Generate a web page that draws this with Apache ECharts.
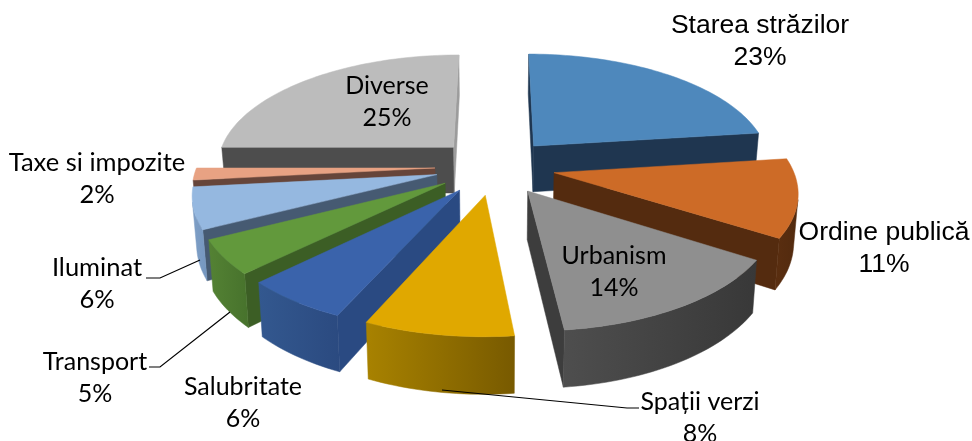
<!DOCTYPE html>
<html>
<head>
<meta charset="utf-8">
<style>html,body{margin:0;padding:0;background:#fff}#c{width:972px;height:441px}</style>
<script src="https://cdn.jsdelivr.net/npm/echarts@6/dist/echarts.min.js"></script>
</head>
<body>
<div id="c"></div>
<script>
// ---- data ----
var categories = ['Starea străzilor','Ordine publică','Urbanism','Spații verzi','Salubritate','Transport','Iluminat','Taxe si impozite','Diverse'];
var shares = [23, 11, 14.3, 8.4, 6.0, 4.8, 5.8, 1.7, 25];

// ---- styles ----
var topColors  = ['#4e88bc','#cd6b27','#8f8f8f','#e0a800','#3a63ab','#62993c','#95b8e0','#e8a283','#bcbcbc'];
var cutColors  = ['#1f3650','#542b0f','#3d3d3d','#7a5c00','#2a4a82','#3c5e25','#465a72','#66453a','#4d4d4d'];
var endColors  = ['#1f3650','#542b0f','#3d3d3d','#7a5c00','#2a4a82','#3c5e25','#465a72','#66453a','#9c9c9c'];
var wallLeft   = ['#2a4a6e','#5a2e10','#4e4e4e','#a88200','#33588f','#548234','#7f9fc6','#8a5c45','#6a6a6a'];
var wallRight  = ['#2a4a6e','#522a0e','#383838','#785a00','#2b4a80','#47722c','#7496bf','#8a5c45','#6a6a6a'];

// ---- pie geometry (layout) ----
var G = {cx:495, cy:166.5, R:238, explode:60, k:0.467, p:0.00062, depth:47, shrink:0.985};

// ---- label layout ----
var labelFont = ['26.5px "Liberation Sans"','26.5px "Liberation Sans"','25px Lato','25px Lato','25px Lato','25px Lato','25.5px Lato','25.5px Lato','25px Lato'];
var labelPos = [[760,42],[884,249],[614,272],[700,418],[243,403],[95,378],[97,284],[97,179],[387,102]];
var leaders = {
  3:[[442,390],[627,408],[639,408]],
  5:[[149,367],[160,367],[230,312]],
  6:[[146,278],[160,278],[200,260]]
};

var total = shares.reduce(function(a,b){return a+b;},0);
var slices = [], acc = 0;
shares.forEach(function(v,i){
  var a0 = acc/total*Math.PI*2; acc += v;
  var a1 = acc/total*Math.PI*2;
  slices.push({i:i,a0:a0,a1:a1,mid:(a0+a1)/2});
});
// painter's order: far slices first
var drawOrder = slices.slice().sort(function(a,b){return Math.cos(b.mid)-Math.cos(a.mid);});

function proj(X,Y,bottom){
  var s = 1/(1-G.p*Y);
  var x = G.cx + X*s*(bottom?G.shrink:1);
  var y = G.cy + G.k*Y*s + (bottom?G.depth*s:0);
  return [x,y];
}
function area(pts){
  var a=0;
  for(var i=0;i<pts.length;i++){var p=pts[i],q=pts[(i+1)%pts.length];a+=p[0]*q[1]-q[0]*p[1];}
  return a/2;
}
function poly(points,fill,z){
  return {type:'polygon',z2:z,shape:{points:points},style:{fill:fill,stroke:fill,lineWidth:0.5}};
}
function renderSlice(params){
  var sl = drawOrder[params.dataIndex];
  var i = sl.i;
  var ex = G.explode*Math.sin(sl.mid), ey = -G.explode*Math.cos(sl.mid);
  var world = [];
  var n = Math.max(6,Math.ceil((sl.a1-sl.a0)/(Math.PI/120)));
  for(var j=0;j<=n;j++){
    var a = sl.a0+(sl.a1-sl.a0)*j/n;
    world.push([ex+G.R*Math.sin(a), ey-G.R*Math.cos(a)]);
  }
  var apex=[ex,ey];
  var children=[];
  function quad(a,b){
    return [proj(a[0],a[1]),proj(b[0],b[1]),proj(b[0],b[1],true),proj(a[0],a[1],true)];
  }
  // cut walls
  var q0=quad(apex,world[0]);
  if(area(q0)<0) children.push(poly(q0,cutColors[i],1));
  var q1=quad(world[n],apex);
  if(area(q1)<0) children.push(poly(q1,endColors[i],1));
  // outer curved wall: contiguous run of viewer-facing segments
  var tops=[],bots=[];
  for(j=0;j<n;j++){
    if(area(quad(world[j],world[j+1]))<0){
      if(!tops.length){tops.push(proj(world[j][0],world[j][1]));bots.push(proj(world[j][0],world[j][1],true));}
      tops.push(proj(world[j+1][0],world[j+1][1]));
      bots.push(proj(world[j+1][0],world[j+1][1],true));
    }
  }
  if(tops.length){
    var grad=new echarts.graphic.LinearGradient(0,0,1,0,[{offset:0,color:wallLeft[i]},{offset:1,color:wallRight[i]}]);
    children.push({type:'polygon',z2:2,shape:{points:tops.concat(bots.reverse())},style:{fill:grad,stroke:grad,lineWidth:0.5}});
  }
  // top face
  var topPts=[proj(apex[0],apex[1])].concat(world.map(function(w){return proj(w[0],w[1]);}));
  children.push(poly(topPts,topColors[i],3));
  return {type:'group',children:children};
}
function renderLabel(params){
  var i=params.dataIndex;
  var children=[];
  if(leaders[i]) children.push({type:'polyline',shape:{points:leaders[i]},style:{fill:null,stroke:'#000',lineWidth:1.2}});
  children.push({type:'text',style:{
    text:categories[i]+'\n'+Math.round(shares[i])+'%',
    x:labelPos[i][0],y:labelPos[i][1],
    font:labelFont[i],fill:'#000',align:'center',verticalAlign:'middle',lineHeight:32
  }});
  return {type:'group',children:children};
}
var chart=echarts.init(document.getElementById('c'),null,{renderer:'canvas',width:972,height:441});
chart.setOption({
  animation:false,
  backgroundColor:'#fff',
  series:[
    {type:'custom',coordinateSystem:'none',silent:true,z:2,renderItem:renderSlice,
     data:drawOrder.map(function(s){return shares[s.i];})},
    {type:'custom',coordinateSystem:'none',silent:true,z:3,renderItem:renderLabel,
     data:shares.slice()}
  ]
});
</script>
</body>
</html>
